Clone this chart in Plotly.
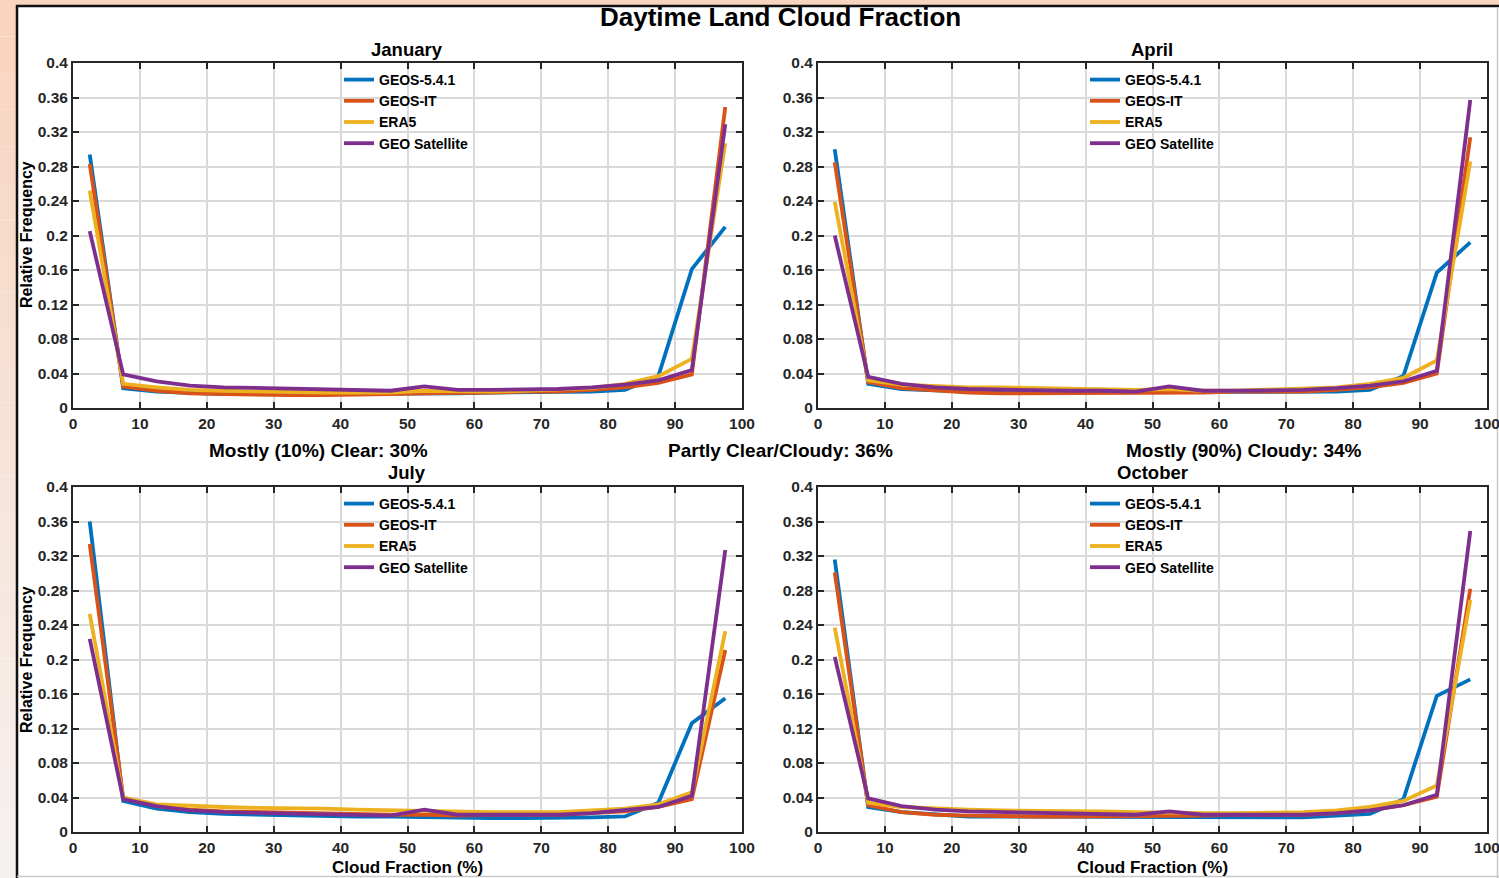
import plotly.graph_objects as go

# ---------------- data ----------------
cloud_bins = [2.5, 7.5, 12.5, 17.5, 22.5, 27.5, 32.5, 37.5, 42.5, 47.5,
              52.5, 57.5, 62.5, 67.5, 72.5, 77.5, 82.5, 87.5, 92.5, 97.5]

series_names = ["GEOS-5.4.1", "GEOS-IT", "ERA5", "GEO Satellite"]
months = ["January", "April", "July", "October"]

jan_geos541 = [0.294, 0.023, 0.019, 0.017, 0.016, 0.016, 0.016, 0.016, 0.016, 0.016,
               0.017, 0.017, 0.018, 0.018, 0.018, 0.019, 0.021, 0.037, 0.161, 0.210]
jan_geosit = [0.283, 0.025, 0.020, 0.017, 0.016, 0.015, 0.015, 0.015, 0.015, 0.016,
              0.017, 0.017, 0.018, 0.019, 0.019, 0.021, 0.024, 0.029, 0.039, 0.349]
jan_era5 = [0.252, 0.028, 0.024, 0.021, 0.020, 0.019, 0.019, 0.018, 0.018, 0.018,
            0.020, 0.019, 0.019, 0.020, 0.021, 0.023, 0.028, 0.037, 0.057, 0.307]
jan_geosat = [0.205, 0.039, 0.031, 0.026, 0.024, 0.023, 0.022, 0.021, 0.021, 0.020,
              0.025, 0.021, 0.021, 0.021, 0.022, 0.024, 0.027, 0.032, 0.044, 0.329]

apr_geos541 = [0.300, 0.028, 0.022, 0.020, 0.019, 0.018, 0.018, 0.018, 0.018, 0.018,
               0.018, 0.018, 0.018, 0.018, 0.018, 0.019, 0.021, 0.037, 0.157, 0.192]
apr_geosit = [0.285, 0.030, 0.023, 0.020, 0.018, 0.017, 0.017, 0.017, 0.017, 0.017,
              0.018, 0.018, 0.019, 0.019, 0.019, 0.021, 0.024, 0.029, 0.040, 0.314]
apr_era5 = [0.239, 0.032, 0.027, 0.025, 0.024, 0.024, 0.023, 0.023, 0.022, 0.021,
            0.022, 0.020, 0.020, 0.021, 0.022, 0.024, 0.028, 0.035, 0.055, 0.286]
apr_geosat = [0.200, 0.036, 0.028, 0.024, 0.022, 0.021, 0.020, 0.020, 0.020, 0.019,
              0.025, 0.020, 0.020, 0.020, 0.021, 0.023, 0.026, 0.031, 0.043, 0.357]

jul_geos541 = [0.360, 0.036, 0.027, 0.023, 0.021, 0.020, 0.019, 0.019, 0.018, 0.018,
               0.017, 0.016, 0.016, 0.016, 0.016, 0.017, 0.018, 0.034, 0.126, 0.155]
jul_geosit = [0.334, 0.040, 0.030, 0.026, 0.024, 0.023, 0.022, 0.021, 0.021, 0.020,
              0.020, 0.019, 0.020, 0.020, 0.020, 0.022, 0.024, 0.029, 0.038, 0.211]
jul_era5 = [0.253, 0.040, 0.032, 0.030, 0.029, 0.028, 0.028, 0.027, 0.026, 0.025,
            0.024, 0.023, 0.023, 0.023, 0.023, 0.025, 0.027, 0.032, 0.046, 0.233]
jul_geosat = [0.224, 0.038, 0.030, 0.025, 0.023, 0.022, 0.021, 0.020, 0.020, 0.019,
              0.026, 0.020, 0.020, 0.020, 0.020, 0.022, 0.025, 0.029, 0.042, 0.327]

oct_geos541 = [0.316, 0.029, 0.023, 0.020, 0.018, 0.018, 0.018, 0.017, 0.017, 0.017,
               0.017, 0.017, 0.017, 0.017, 0.017, 0.019, 0.021, 0.038, 0.158, 0.177]
oct_geosit = [0.301, 0.031, 0.023, 0.020, 0.019, 0.018, 0.018, 0.018, 0.018, 0.018,
              0.019, 0.019, 0.020, 0.020, 0.020, 0.022, 0.025, 0.031, 0.041, 0.282]
oct_era5 = [0.237, 0.034, 0.029, 0.027, 0.026, 0.025, 0.025, 0.025, 0.024, 0.023,
            0.022, 0.022, 0.022, 0.022, 0.023, 0.025, 0.029, 0.036, 0.054, 0.269]
oct_geosat = [0.203, 0.039, 0.030, 0.026, 0.024, 0.023, 0.022, 0.021, 0.021, 0.020,
              0.024, 0.020, 0.020, 0.020, 0.020, 0.022, 0.025, 0.031, 0.043, 0.349]

x_tick_vals = [0, 10, 20, 30, 40, 50, 60, 70, 80, 90, 100]
x_tick_text = ["0", "10", "20", "30", "40", "50", "60", "70", "80", "90", "100"]
y_tick_vals = [0, 0.04, 0.08, 0.12, 0.16, 0.2, 0.24, 0.28, 0.32, 0.36, 0.4]
y_tick_text = ["0", "0.04", "0.08", "0.12", "0.16", "0.2", "0.24", "0.28", "0.32", "0.36", "0.4"]

category_labels = ["Mostly (10%) Clear: 30%", "Partly Clear/Cloudy: 36%", "Mostly (90%) Cloudy: 34%"]

month_data = {
    "January": [jan_geos541, jan_geosit, jan_era5, jan_geosat],
    "April": [apr_geos541, apr_geosit, apr_era5, apr_geosat],
    "July": [jul_geos541, jul_geosit, jul_era5, jul_geosat],
    "October": [oct_geos541, oct_geosit, oct_era5, oct_geosat],
}

# ---------------- style / layout ----------------
W, H = 1499, 878
colors = ["#0072BD", "#D95319", "#EDB120", "#7E2F8E"]
FONT = "Liberation Sans, Arial, Helvetica, sans-serif"
AX = "#262626"


def px(x):
    return x / W


def py(y):
    return 1 - y / H


# pixel boxes for the panels: (left, right, top, bottom)
boxes = [(73, 742, 63, 408), (818, 1487, 63, 408),
         (73, 742, 487, 832), (818, 1487, 487, 832)]
legend_pos = [(339, 64), (1085, 64), (339, 488), (1085, 488)]

fig = go.Figure()
layout = dict(
    width=W, height=H,
    margin=dict(l=0, r=0, t=0, b=0, autoexpand=False),
    paper_bgcolor="white", plot_bgcolor="white",
    font=dict(family=FONT, color="black", weight="bold"),
    showlegend=True,
)

for i, month in enumerate(months):
    xa = "x" if i == 0 else f"x{i+1}"
    ya = "y" if i == 0 else f"y{i+1}"
    lg = "legend" if i == 0 else f"legend{i+1}"
    for name, vals, col in zip(series_names, month_data[month], colors):
        fig.add_trace(go.Scatter(
            x=cloud_bins, y=vals, mode="lines", name=name,
            line=dict(color=col, width=3.8),
            xaxis=xa, yaxis=ya, legend=lg, showlegend=True,
        ))
    l, r, t, b = boxes[i]
    common = dict(showline=True, linewidth=2, linecolor=AX, mirror="ticks",
                  ticks="inside", ticklen=6, tickwidth=2, tickcolor=AX,
                  showgrid=True, gridcolor="#dadada", gridwidth=1.5,
                  zeroline=False, automargin=False, ticklabeloverflow="allow",
                  tickfont=dict(family=FONT, size=15.5, color=AX, weight="bold"))
    layout["xaxis" if i == 0 else f"xaxis{i+1}"] = dict(
        domain=[px(l), px(r)], anchor=ya, range=[0, 100],
        tickmode="array", tickvals=x_tick_vals, ticktext=x_tick_text, **common)
    layout["yaxis" if i == 0 else f"yaxis{i+1}"] = dict(
        domain=[py(b), py(t)], anchor=xa, range=[0, 0.4],
        tickmode="array", tickvals=y_tick_vals, ticktext=y_tick_text, **common)
    lx, ly = legend_pos[i]
    layout[lg] = dict(x=px(lx), y=py(ly), xanchor="left", yanchor="top",
                      xref="paper", yref="paper",
                      bgcolor="rgba(0,0,0,0)", borderwidth=0, tracegroupgap=0,
                      font=dict(family=FONT, size=14, color="black", weight="bold"))

annotations = []


def ann(text, x, y, size, angle=0):
    annotations.append(dict(text=text, x=px(x), y=py(y), xref="paper", yref="paper",
                            showarrow=False, xanchor="center", yanchor="middle",
                            textangle=angle,
                            font=dict(family=FONT, size=size, color="black", weight="bold")))


ann("Daytime Land Cloud Fraction", 780, 17, 26)
ann(months[0], 407, 49, 18.5)
ann(months[1], 1152, 49, 18.5)
ann(months[2], 407, 473, 18.5)
ann(months[3], 1152, 473, 18.5)
ann(category_labels[0], 318, 450, 19)
ann(category_labels[1], 780, 450, 19)
ann(category_labels[2], 1244, 450, 19)
ann("Relative Frequency", 26, 235, 16, -90)
ann("Relative Frequency", 26, 660, 16, -90)
ann("Cloud Fraction (%)", 407, 867, 17)
ann("Cloud Fraction (%)", 1152, 867, 17)
layout["annotations"] = annotations

# background frame: peach slide edge, black figure border
shapes = []
top_c = (249, 212, 190)
bot_c = (245, 241, 240)
nb = 24
for k in range(nb):
    f = k / (nb - 1)
    c = tuple(int(round(top_c[j] + (bot_c[j] - top_c[j]) * f)) for j in range(3))
    y0 = k * H / nb
    y1 = (k + 1) * H / nb
    shapes.append(dict(type="rect", xref="paper", yref="paper", layer="below",
                       x0=px(0), x1=px(16), y0=py(y1), y1=py(y0),
                       fillcolor=f"rgb{c}", line=dict(width=0)))
shapes.append(dict(type="rect", xref="paper", yref="paper", layer="below",
                   x0=px(0), x1=px(W), y0=py(5), y1=py(0),
                   fillcolor="rgb(249,212,190)", line=dict(width=0)))
shapes.append(dict(type="line", xref="paper", yref="paper", layer="below",
                   x0=px(17), x1=px(17), y0=py(5), y1=py(H), line=dict(color="#111111", width=2.5)))
shapes.append(dict(type="line", xref="paper", yref="paper", layer="below",
                   x0=px(16), x1=px(W), y0=py(6), y1=py(6), line=dict(color="#111111", width=2.5)))
shapes.append(dict(type="line", xref="paper", yref="paper", layer="below",
                   x0=px(1497.5), x1=px(1497.5), y0=py(7), y1=py(H), line=dict(color="#c8c8c8", width=1.5)))
shapes.append(dict(type="line", xref="paper", yref="paper", layer="below",
                   x0=px(17), x1=px(W), y0=py(876.5), y1=py(876.5), line=dict(color="#c8c8c8", width=1.5)))
layout["shapes"] = shapes

fig.update_layout(**layout)
fig.write_html(
    "out.html",
    config={"displayModeBar": False},
    post_script="document.body.style.margin='0';document.body.style.padding='0';",
)
